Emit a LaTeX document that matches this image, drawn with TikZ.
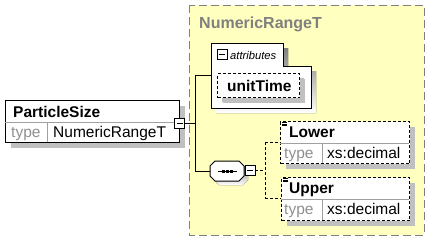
\documentclass[tikz,border=0pt]{standalone}
\usepackage{fontspec}
\setmainfont{Liberation Sans}
\usetikzlibrary{shadows}
\definecolor{areafill}{HTML}{FFFFC0}
\definecolor{arealine}{HTML}{808080}
\definecolor{shade}{HTML}{C0C0C0}
\definecolor{rowline}{HTML}{A0A0A0}
\definecolor{labelgray}{HTML}{909090}
\definecolor{titlegray}{HTML}{808080}
\begin{document}
\begin{tikzpicture}[x=1pt,y=-1pt,
  typearea/.style={draw=arealine,fill=areafill,line width=1pt,dash pattern=on 8pt off 4pt},
  boxshadow/.style={general shadow={fill=shade,opacity=1,shadow xshift=5pt,shadow yshift=-5pt}},
  elembox/.style={draw=black,fill=white,line width=1pt,inner sep=0pt,anchor=north west,boxshadow},
  optbox/.style={elembox,dash pattern=on 3pt off 2pt},
  namefont/.style={font=\fontsize{15.5}{18}\selectfont\bfseries,inner sep=0pt,anchor=base west},
  typefont/.style={font=\fontsize{15.5}{18}\selectfont,inner sep=0pt,anchor=base west},
  toggle/.style={draw=black,fill=white,line width=0.8pt,minimum size=10pt,inner sep=0pt},
  wire/.style={draw=black,line width=1pt},
  optwire/.style={wire,dash pattern=on 3pt off 2pt},
  divider/.style={draw=rowline,line width=0.8pt}]
\useasboundingbox (0,0) rectangle (443,241);
\fill[white] (0,0) rectangle (443,241);

% complex type frame
\path[typearea] (189,5) rectangle (424,235);
\node[namefont,text=titlegray,font=\fontsize{16}{18}\selectfont\bfseries] (title) at (199,28) {NumericRangeT};

% element ParticleSize
\node[elembox,minimum width=174pt,minimum height=42pt] (ps) at (5,100) {};
\draw[divider] (5,122) -- (179,122) (47,122) -- (47,142);
\node[namefont] (psname) at (13,117) {ParticleSize};
\node[typefont,text=labelgray] (pstypelbl) at (11,137) {type};
\node[typefont] (pstype) at (53,137) {NumericRangeT};
\node[toggle] (pstoggle) at (179.5,123) {};
\draw[line width=0.8pt] (176.5,123) -- (182.5,123);

% attributes group
\fill[shade] (216,48) -- (288,48) -- (288,71) -- (316,71) -- (316,113) -- (216,113) -- cycle;
\draw[line width=1pt,fill=white] (211,43) -- (283,43) -- (283,66) -- (311,66) -- (311,108) -- (211,108) -- cycle;
\coordinate (attrin) at (211,75);
\node[toggle,minimum size=10pt] (attrtoggle) at (222,54) {};
\draw[line width=0.8pt] (219,54) -- (225,54);
\node[font=\fontsize{11.2}{13}\selectfont\itshape,inner sep=0pt,anchor=base west] (attrlbl) at (230,59) {attributes};
\node[optbox,minimum width=82pt,minimum height=24pt,general shadow={fill=shade,opacity=1,shadow xshift=4.5pt,shadow yshift=-4.5pt}] (ut) at (217,73) {};
\node[namefont] (utname) at (227,91) {unitTime};

% sequence compositor
\fill[shade] (219,165) -- (243,165) -- (248,170) -- (248,180) -- (243,185) -- (219,185) -- (214,180) -- (214,170) -- cycle;
\draw[line width=1pt,fill=white] (215,161) -- (239,161) -- (244,166) -- (244,176) -- (239,181) -- (215,181) -- (210,176) -- (210,166) -- cycle;
\coordinate (seqin) at (210,171);
\draw[line width=1pt] (218,171) -- (237,171);
\foreach \dx in {223.5,227.5,231.5} \fill (\dx-1.5,169.5) rectangle (\dx+1.5,172.5);
\node[toggle] (seqtoggle) at (250,170) {};
\draw[line width=0.8pt] (247,170) -- (253,170);

% wires from ParticleSize to its content
\coordinate (trunk) at (195,123);
\draw[wire] (pstoggle.east) -- (trunk);
\draw[wire] (195,75) |- (seqin);
\draw[wire] (195,75) -- (attrin);

% element Lower
\node[optbox,minimum width=129pt,minimum height=42pt] (lo) at (280,121) {};
\draw[divider] (280,143) -- (409,143) (322,143) -- (322,163);
\draw[line width=0.6pt] (282,122.5) -- (287,122.5) (282,124) -- (287,124) (282,125.5) -- (287,125.5);
\node[namefont] (loname) at (289,137.5) {Lower};
\node[typefont,text=labelgray] (lotypelbl) at (284,158) {type};
\node[typefont] (lotype) at (327,158) {xs:decimal};

% element Upper
\node[optbox,minimum width=128pt,minimum height=43pt] (up) at (281,177) {};
\draw[divider] (281,199) -- (409,199) (322,199) -- (322,220);
\draw[line width=0.6pt] (283,178.5) -- (288,178.5) (283,180) -- (288,180) (283,181.5) -- (288,181.5);
\node[namefont] (upname) at (289,193.5) {Upper};
\node[typefont,text=labelgray] (uptypelbl) at (284,214) {type};
\node[typefont] (uptype) at (327,214) {xs:decimal};

% wires from the sequence to its members
\coordinate (fork) at (265,170);
\draw[optwire] (seqtoggle.east) -- (fork);
\draw[optwire] (265,142) -- (265,198);
\draw[optwire] (265,142) -- (lo.west |- 0,142);
\draw[optwire] (265,198) -- (up.west |- 0,198);
\end{tikzpicture}
\end{document}
